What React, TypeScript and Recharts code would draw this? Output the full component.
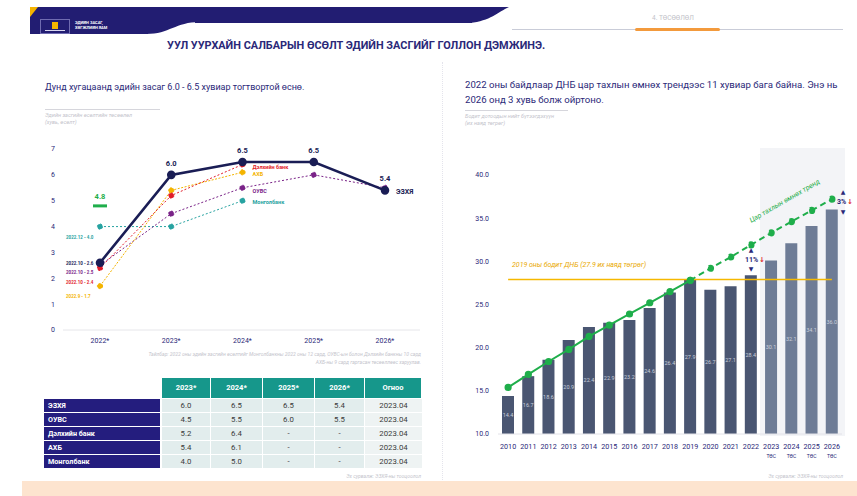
import React from 'react';
import { LineChart, Line, XAxis, YAxis, ComposedChart, Bar, Cell, LabelList, ReferenceLine } from 'recharts';

// ---------- Left chart: growth forecasts (%) ----------
const growthYears = ['2022*', '2023*', '2024*', '2025*', '2026*'];
const ezhyGrowth = [2.6, 6.0, 6.5, 6.5, 5.4];
const imfGrowth = [2.5, 4.5, 5.5, 6.0, 5.5];
const wbGrowth: (number | null)[] = [2.4, 5.2, 6.4, null, null];
const adbGrowth: (number | null)[] = [1.7, 5.4, 6.1, null, null];
const mbGrowth: (number | null)[] = [4.0, 4.0, 5.0, null, null];
const actualGrowth: (number | null)[] = [4.8, null, null, null, null];
const growthTicks = [0, 1, 2, 3, 4, 5, 6, 7];

// ---------- Table ----------
const tableHeaders = ['2023*', '2024*', '2025*', '2026*', 'Огноо'];
const tableNames = ['ЭЗХЯ', 'ОУВС', 'Дэлхийн банк', 'АХБ', 'Монголбанк'];
const tableValues = [
  ['6.0', '6.5', '6.5', '5.4', '2023.04'],
  ['4.5', '5.5', '6.0', '5.5', '2023.04'],
  ['5.2', '6.4', '-', '-', '2023.04'],
  ['5.4', '6.1', '-', '-', '2023.04'],
  ['4.0', '5.0', '-', '-', '2023.04'],
];

// ---------- Right chart: real GDP (trillion MNT) ----------
const gdpYears = ['2010', '2011', '2012', '2013', '2014', '2015', '2016', '2017', '2018', '2019', '2020', '2021', '2022', '2023', '2024', '2025', '2026'];
const gdpValues = [14.4, 16.7, 18.6, 20.9, 22.4, 22.9, 23.2, 24.6, 26.4, 27.9, 26.7, 27.1, 28.4, 30.1, 32.1, 34.1, 36.0];
const trendValues = [15.4, 16.9, 18.4, 19.8, 21.3, 22.6, 23.9, 25.2, 26.5, 27.8, 29.2, 30.5, 31.9, 33.3, 34.6, 35.9, 37.2];
const forecastYears = ['2023', '2024', '2025', '2026'];
const preCovidLastYear = '2019';
const gdp2019 = 27.9;
const gdpTicks = [10, 15, 20, 25, 30, 35, 40];

const FONT = 'Roboto, "Noto Sans", "DejaVu Sans", sans-serif';
const NAVY = '#2a2878';
const BANNER = '#221d72';
const C_EZHY = '#1a1d55';
const C_IMF = '#7a2388';
const C_WB = '#e11d2a';
const C_ADB = '#f4b400';
const C_MB = '#27a3a1';
const GREEN = '#1fae4b';

const growthData = growthYears.map((y, i) => ({
  year: y,
  ezhy: ezhyGrowth[i],
  imf: imfGrowth[i],
  wb: wbGrowth[i],
  adb: adbGrowth[i],
  mb: mbGrowth[i],
  actual: actualGrowth[i],
}));

const lastIdx = gdpYears.indexOf(preCovidLastYear);
const gdpData = gdpYears.map((y, i) => ({
  year: y,
  value: gdpValues[i],
  trendSolid: i <= lastIdx ? trendValues[i] : null,
  trendDash: i >= lastIdx ? trendValues[i] : null,
}));

const T = (p: { x: number; y: number; s: number; c: string; children: React.ReactNode; b?: boolean; i?: boolean; align?: 'left' | 'right' | 'center'; w?: number }) => {
  const style: React.CSSProperties = {
    position: 'absolute',
    top: p.y,
    fontSize: p.s,
    color: p.c,
    fontWeight: p.b ? 700 : 400,
    fontStyle: p.i ? 'italic' : 'normal',
    whiteSpace: 'nowrap',
    lineHeight: 1,
    fontFamily: FONT,
  };
  if (p.align === 'right') {
    style.right = 857 - p.x;
    style.textAlign = 'right';
  } else if (p.align === 'center') {
    style.left = p.x - (p.w || 100) / 2;
    style.width = p.w || 100;
    style.textAlign = 'center';
  } else {
    style.left = p.x;
  }
  return <div style={style}>{p.children}</div>;
};

const Box = (p: { x: number; y: number; w: number; h: number; c: string; r?: number; border?: string }) => (
  <div style={{ position: 'absolute', left: p.x, top: p.y, width: p.w, height: p.h, backgroundColor: p.c, borderRadius: p.r || 0, border: p.border, boxSizing: 'border-box' }} />
);

const ezhyLabel = (props: any) => {
  const { x, y, index, value } = props;
  const els: React.ReactNode[] = [];
  if (index >= 1) {
    els.push(
      <text key="v" x={x} y={y - 9} textAnchor="middle" fontSize={7.5} fontWeight={700} fill={C_EZHY} fontFamily={FONT}>
        {Number(value).toFixed(1)}
      </text>
    );
  }
  if (index === 4) {
    els.push(
      <text key="n" x={x + 11} y={y + 4} fontSize={7} fontWeight={700} fill={C_EZHY} fontFamily={FONT}>
        ЭЗХЯ
      </text>
    );
  }
  return <g>{els}</g>;
};

const endLabel = (name: string, color: string, idx: number, dy: number) => (props: any) => {
  const { x, y, index } = props;
  if (index !== idx) return null;
  return (
    <text x={x + 10} y={y + dy} fontSize={5.5} fontWeight={700} fill={color} fontFamily={FONT}>
      {name}
    </text>
  );
};

const actualDot = (props: any) => {
  const { cx, cy, value, index } = props;
  if (value == null || cx == null) return <g key={`a${index}`} />;
  return (
    <g key={`a${index}`}>
      <rect x={cx - 7} y={cy - 1.5} width={14} height={3} fill={GREEN} />
      <text x={cx} y={cy - 6.5} textAnchor="middle" fontSize={7.5} fontWeight={700} fill={GREEN} fontFamily={FONT}>
        {Number(value).toFixed(1)}
      </text>
    </g>
  );
};

const GdpTick = (props: any) => {
  const { x, y, payload } = props;
  const isF = forecastYears.includes(payload.value);
  return (
    <g transform={`translate(${x},${y})`}>
      <text y={6.5} textAnchor="middle" fontSize={7.2} fill={NAVY} fontFamily={FONT}>
        {payload.value}
      </text>
      {isF && (
        <text y={16} textAnchor="middle" fontSize={5} fill={NAVY} fontFamily={FONT}>
          ТӨС
        </text>
      )}
    </g>
  );
};

const colX = [162, 211, 263, 315, 365, 422];
const rowY0 = 399;
const rowH = 14;

export default function App() {
  return (
    <div style={{ position: 'absolute', left: 0, top: 0, width: 857, height: 496, background: '#ffffff', fontFamily: FONT }}>
      {/* bottom peach band */}
      <Box x={22} y={481} w={835} h={15} c="#fde4cf" />
      {/* panel separator */}
      <div style={{ position: 'absolute', left: 442, top: 62, width: 0, height: 418, borderLeft: '1px dotted #e4e4ec' }} />

      {/* header banner */}
      <Box x={30} y={7} w={118} h={27} c={BANNER} />
      <Box x={30} y={7} w={445} h={15} c={BANNER} />
      <Box x={195} y={21} w={277} h={2} c={BANNER} />
      <svg width={60} height={16} style={{ position: 'absolute', left: 146, top: 19 }}>
        <path d="M0,1 L54,1 L54,3 C29,3 24,15 0,15 Z" fill={BANNER} />
      </svg>
      <svg width={40} height={17} style={{ position: 'absolute', left: 470, top: 7 }}>
        <path d="M0,0 L39,0 C28,5 20,14 0,16 Z" fill={BANNER} />
      </svg>
      <svg width={8} height={10} style={{ position: 'absolute', left: 30, top: 7 }}>
        <path d="M0,0 L8,0 L0,10 Z" fill="#f5b400" />
      </svg>
      <Box x={40} y={19} w={30} h={15} c="transparent" border="1px solid #6f6bb0" />
      <Box x={52} y={22} w={6} h={7} c="#f5b400" />
      <Box x={45} y={30} w={20} h={1} c="#d7d5ee" />
      <T x={75} y={21} s={4} c="#ffffff" b>ЭДИЙН ЗАСАГ,</T>
      <T x={75} y={26} s={4} c="#ffffff" b>ХӨГЖЛИЙН ЯАМ</T>
      <Box x={512} y={29} w={331} h={1} c="#c9ccd8" />
      <Box x={635} y={28} w={85} h={3} c="#f39a3c" r={2} />
      <T x={673} y={15} s={6.5} c="#c2c2c8" align="center" w={80}>4. ТӨСӨӨЛӨЛ</T>
      <T x={167} y={41} s={10.9} c={NAVY} b>
        УУЛ УУРХАЙН САЛБАРЫН ӨСӨЛТ ЭДИЙН ЗАСГИЙГ ГОЛЛОН ДЭМЖИНЭ.
      </T>

      {/* left panel titles */}
      <T x={45} y={83} s={9} c={NAVY}>Дунд хугацаанд эдийн засаг 6.0 - 6.5 хувиар тогтвортой өснө.</T>
      <Box x={45} y={109} w={115} h={1} c="#d6d6dc" />
      <T x={45} y={113} s={5.5} c="#c4c4cc" i>Эдийн засгийн өсөлтийн төсөөлөл</T>
      <T x={45} y={120} s={5.5} c="#c4c4cc" i>(хувь, өсөлт)</T>

      {/* left chart */}
      <div style={{ position: 'absolute', left: 0, top: 130 }}>
        <LineChart width={440} height={240} data={growthData} margin={{ top: 19, right: 20, left: 0, bottom: 10 }}>
          <XAxis
            dataKey="year"
            height={30}
            padding={{ left: 37, right: 35 }}
            tickLine={false}
            tickSize={0}
            tickMargin={8}
            axisLine={{ stroke: '#e6e6ea' }}
            tick={{ fontSize: 7, fill: NAVY, fontFamily: FONT }}
          />
          <YAxis
            width={63}
            domain={[0, 7]}
            ticks={growthTicks}
            axisLine={false}
            tickLine={false}
            tickSize={0}
            tickMargin={8}
            tick={{ fontSize: 7, fill: NAVY, fontFamily: FONT }}
          />
          <Line dataKey="mb" stroke={C_MB} strokeWidth={1} strokeDasharray="2 2" dot={{ r: 2.6, fill: C_MB, stroke: C_MB }} isAnimationActive={false} connectNulls={false}>
            <LabelList content={endLabel('Монголбанк', C_MB, 2, 3)} />
          </Line>
          <Line dataKey="imf" stroke={C_IMF} strokeWidth={1} strokeDasharray="2 2" dot={{ r: 2.6, fill: C_IMF, stroke: C_IMF }} isAnimationActive={false}>
            <LabelList content={endLabel('ОУВС', C_IMF, 2, 5)} />
          </Line>
          <Line dataKey="adb" stroke={C_ADB} strokeWidth={1} strokeDasharray="2 1.5" dot={{ r: 2.6, fill: C_ADB, stroke: C_ADB }} isAnimationActive={false}>
            <LabelList content={endLabel('АХБ', C_ADB, 2, 4)} />
          </Line>
          <Line dataKey="wb" stroke={C_WB} strokeWidth={1} strokeDasharray="2 2" dot={{ r: 2.6, fill: C_WB, stroke: C_WB }} isAnimationActive={false}>
            <LabelList content={endLabel('Дэлхийн банк', C_WB, 2, 4)} />
          </Line>
          <Line dataKey="ezhy" stroke={C_EZHY} strokeWidth={2.6} dot={{ r: 3, fill: C_EZHY, stroke: C_EZHY }} isAnimationActive={false}>
            <LabelList content={ezhyLabel} />
          </Line>
          <Line dataKey="actual" stroke="none" dot={actualDot} activeDot={false} isAnimationActive={false} />
        </LineChart>
      </div>

      {/* 2022 source labels */}
      <T x={66} y={236} s={4.5} c={C_MB} b>2022.12 - 4.0</T>
      <T x={66} y={262} s={4.5} c={C_EZHY} b>2022.10 - 2.6</T>
      <T x={66} y={271} s={4.5} c={C_IMF} b>2022.10 - 2.5</T>
      <T x={66} y={281} s={4.5} c={C_WB} b>2022.10 - 2.4</T>
      <T x={66} y={295} s={4.5} c={C_ADB} b>2022.9 - 1.7</T>

      {/* caption */}
      <T x={421} y={352} s={5} c="#c4c4cc" i align="right">
        Тайлбар: 2022 оны эдийн засгийн өсөлтийг Монголбанкны 2022 оны 12 сард, ОУВС-ын болон Дэлхийн банкны 10 сард
      </T>
      <T x={421} y={360} s={5} c="#c4c4cc" i align="right">АХБ-ны 9 сард гаргасан төсөөллөөс харуулав.</T>

      {/* table */}
      {tableHeaders.map((h, j) => (
        <div
          key={h}
          style={{
            position: 'absolute', left: colX[j], top: 378, width: colX[j + 1] - colX[j] - 1, height: 20,
            background: '#16978b', color: '#fff', fontSize: 7.5, fontWeight: 700, textAlign: 'center', lineHeight: '20px', fontFamily: FONT,
          }}
        >
          {h}
        </div>
      ))}
      {tableNames.map((n, i) => (
        <React.Fragment key={n}>
          <div
            style={{
              position: 'absolute', left: 44, top: rowY0 + i * rowH, width: 116, height: rowH - 1,
              background: '#241d7e', color: '#fff', fontSize: 7.2, fontWeight: 700, lineHeight: `${rowH - 1}px`, paddingLeft: 4, boxSizing: 'border-box', fontFamily: FONT,
            }}
          >
            {n}
          </div>
          {tableValues[i].map((v, j) => (
            <div
              key={j}
              style={{
                position: 'absolute', left: colX[j], top: rowY0 + i * rowH, width: colX[j + 1] - colX[j] - (j === 4 ? 0 : 1), height: rowH - 1,
                background: j === 4 ? '#eef3f3' : '#e2eded', color: '#3a3a3a', fontSize: 7.8, textAlign: 'center', lineHeight: `${rowH - 1}px`, fontFamily: FONT,
              }}
            >
              {v}
            </div>
          ))}
        </React.Fragment>
      ))}
      <T x={421} y={474} s={5} c="#c4c4cc" i align="right">Эх сурвалж: ЭЗХЯ-ны тооцоолол</T>

      {/* right panel titles */}
      <T x={465} y={80} s={9.6} c={NAVY}>2022 оны байдлаар ДНБ цар тахлын өмнөх трендээс 11 хувиар бага байна. Энэ нь</T>
      <T x={465} y={95} s={9.6} c={NAVY}>2026 онд 3 хувь болж ойртоно.</T>
      <Box x={465} y={110} w={103} h={1} c="#d6d6dc" />
      <T x={465} y={114} s={5.5} c="#c4c4cc" i>Бодит дотоодын нийт бүтээгдэхүүн</T>
      <T x={465} y={121} s={5.5} c="#c4c4cc" i>(их наяд төгрөг)</T>

      {/* forecast background */}
      <Box x={760} y={148} w={85} h={288} c="#f3f4f7" />

      {/* right chart */}
      <div style={{ position: 'absolute', left: 440, top: 150 }}>
        <ComposedChart width={417} height={320} data={gdpData} margin={{ top: 25, right: 15, left: 0, bottom: 6 }} barCategoryGap="40%">
          <XAxis
            dataKey="year"
            height={30}
            tickLine={false}
            tickSize={0}
            tickMargin={8}
            interval={0}
            axisLine={{ stroke: '#e2e2e8' }}
            tick={<GdpTick />}
          />
          <YAxis
            width={58}
            domain={[10, 40]}
            ticks={gdpTicks}
            allowDataOverflow
            axisLine={false}
            tickLine={false}
            tickSize={0}
            tickMargin={9}
            tickFormatter={(v: number) => v.toFixed(1)}
            tick={{ fontSize: 7, fill: NAVY, fontFamily: FONT }}
          />
          <Bar dataKey="value" barSize={12} isAnimationActive={false}>
            {gdpData.map((d) => (
              <Cell key={d.year} fill={forecastYears.includes(d.year) ? '#6e7c96' : '#4a5672'} />
            ))}
            <LabelList dataKey="value" position="center" fill="#c9cfdb" fontSize={5.5} fontFamily={FONT} formatter={(v: any) => Number(v).toFixed(1)} />
          </Bar>
          <ReferenceLine segment={[{ x: '2010', y: gdp2019 }, { x: '2026', y: gdp2019 }]} stroke="#f5b800" strokeWidth={1.6} />
          <Line dataKey="trendSolid" stroke={GREEN} strokeWidth={2} dot={{ r: 2.6, fill: GREEN, stroke: GREEN }} isAnimationActive={false} connectNulls={false} />
          <Line dataKey="trendDash" stroke={GREEN} strokeWidth={2} strokeDasharray="6 4" dot={{ r: 2.6, fill: GREEN, stroke: GREEN }} isAnimationActive={false} connectNulls={false} />
        </ComposedChart>
      </div>

      {/* right annotations */}
      <T x={512} y={262} s={7} c="#e9a800" i>2019 оны бодит ДНБ (27.9 их наяд төгрөг)</T>
      <div
        style={{
          position: 'absolute', left: 735, top: 198, width: 100, textAlign: 'center', fontSize: 7, fontStyle: 'italic', color: GREEN,
          transform: 'rotate(-30deg)', transformOrigin: '50% 50%', whiteSpace: 'nowrap', lineHeight: 1, fontFamily: FONT,
        }}
      >
        Цар тахлын өмнөх тренд
      </div>
      <T x={751} y={247} s={6} c={NAVY} align="center" w={20}>▲</T>
      <T x={745} y={257} s={7} c={NAVY} b>11%</T>
      <T x={759} y={257} s={7} c="#e02a2a" b>↓</T>
      <T x={751} y={266} s={6} c={NAVY} align="center" w={20}>▼</T>
      <T x={843} y={189} s={6} c={NAVY} align="center" w={20}>▲</T>
      <T x={837} y={199} s={7} c={NAVY} b>3%</T>
      <T x={847} y={199} s={7} c="#e02a2a" b>↓</T>
      <T x={843} y={209} s={6} c={NAVY} align="center" w={20}>▼</T>
      <T x={843} y={474} s={5} c="#c4c4cc" i align="right">Эх сурвалж: ЭЗХЯ-ны тооцоолол</T>
    </div>
  );
}
